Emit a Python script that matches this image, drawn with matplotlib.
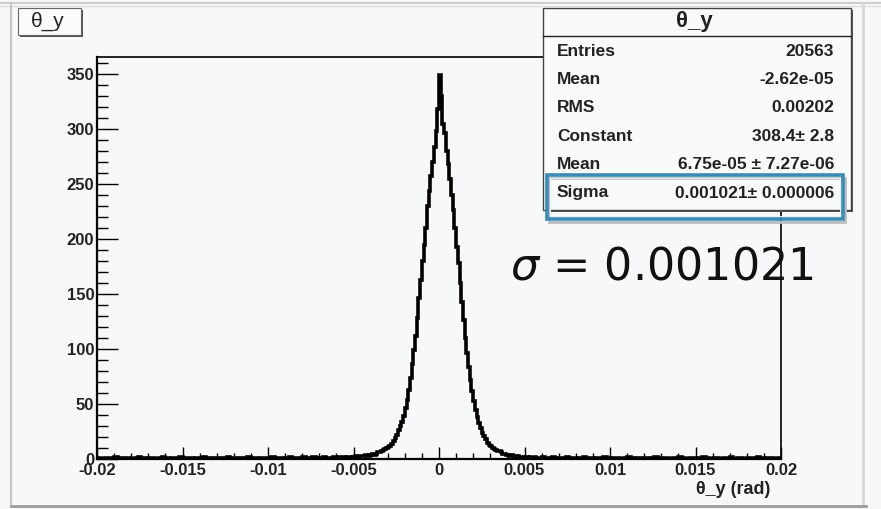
import numpy as np
import matplotlib.pyplot as plt
from matplotlib.patches import Rectangle
from matplotlib.lines import Line2D
from matplotlib.ticker import MultipleLocator, FixedLocator

W, H = 881, 509
BG = '#f7f8fa'
FONT = 'Liberation Sans'

x_lo, x_hi = -0.02, 0.02

# tails (-0.02 .. -0.006) and (0.006 .. 0.02), bins of 0.0002 rad
left_tail = [1, 0, 1, 1, 0, 2, 1, 0, 1, 1, 0, 1, 2, 1, 0, 1, 1, 0, 1, 2,
             1, 0, 1, 1, 2, 0, 1, 1, 0, 1, 1, 2, 1, 0, 1, 1, 1, 0, 2, 1,
             1, 1, 0, 1, 2, 1, 1, 0, 1, 1, 1, 2, 1, 1, 0, 1, 2, 1, 1, 1,
             2, 1, 1, 2, 1, 1, 2, 1, 1, 2]
right_tail = [2, 1, 1, 2, 1, 1, 1, 2, 1, 1, 0, 1, 2, 1, 1, 0, 1, 1, 2, 1,
              0, 1, 1, 0, 1, 2, 1, 0, 1, 1, 1, 0, 1, 2, 0, 1, 1, 0, 1, 1,
              2, 1, 0, 1, 1, 0, 1, 2, 1, 0, 1, 1, 0, 1, 1, 2, 0, 1, 1, 0,
              1, 1, 0, 2, 1, 0, 1, 1, 0, 1]
# core -0.006 .. 0.006, bins of 0.0001 rad
core_left = [1, 2, 1, 1, 2, 1, 2, 2, 1, 2, 2, 3, 2, 2, 3, 3, 3, 4, 3, 4,
             4, 5, 4, 5, 6, 6, 7, 8, 9, 10, 11, 12, 14, 16, 19, 22, 26, 30, 34, 39,
             46, 54, 63, 74, 86, 99, 112, 128, 146, 163,
             180, 195, 210, 230, 244, 257, 270, 284, 298, 318]
core_peak = [349]
core_right = [330, 305, 296, 280, 268, 255, 240, 226, 210, 193,
              178, 160, 143, 126, 110, 96, 84, 72, 62, 53,
              45, 38, 33, 28, 24, 21, 18, 15, 13, 12,
              10, 9, 8, 7, 7, 6, 5, 5, 4, 4, 3, 4, 3, 3, 2, 3, 2, 2, 2, 1,
              2, 1, 2, 1, 1, 2, 1, 1, 1]

counts = np.array(left_tail + core_left + core_peak + core_right + right_tail)
edges = np.concatenate([np.linspace(x_lo, -0.006, len(left_tail) + 1)[:-1],
                        np.linspace(-0.006, 0.006, len(core_left) + len(core_peak) + len(core_right) + 1),
                        np.linspace(0.006, x_hi, len(right_tail) + 1)[1:]])

stats_title = 'θ_y'
stats_rows = [('Entries', '20563'),
              ('Mean', '-2.62e-05'),
              ('RMS', '0.00202'),
              ('Constant', '308.4± 2.8'),
              ('Mean', '6.75e-05 ± 7.27e-06'),
              ('Sigma', '0.001021± 0.000006')]
sigma_fit = 0.001021

x_ticks = [-0.02, -0.015, -0.01, -0.005, 0, 0.005, 0.01, 0.015, 0.02]
x_ticklabels = ['-0.02', '-0.015', '-0.01', '-0.005', '0', '0.005', '0.01', '0.015', '0.02']


def fx(x):
    return x / W


def fy(y):
    return 1 - y / H


def box(ax0, ay0, ax1, ay1, **kw):
    return Rectangle((fx(ax0), fy(ay1)), (ax1 - ax0) / W, (ay1 - ay0) / H,
                     transform=fig.transFigure, **kw)


fig = plt.figure(figsize=(W / 100, H / 100), dpi=100)
fig.patch.set_facecolor(BG)

ax = fig.add_axes([fx(97), fy(459), (781 - 97) / W, (459 - 57) / H])
ax.set_facecolor(BG)
ax.stairs(counts, edges, color='black', linewidth=2.6)
ax.set_xlim(x_lo, x_hi)
ax.set_ylim(0, 365.5)

ax.xaxis.set_major_locator(FixedLocator(x_ticks))
ax.set_xticklabels(x_ticklabels)
ax.xaxis.set_minor_locator(MultipleLocator(0.001))
ax.yaxis.set_major_locator(MultipleLocator(50))
ax.yaxis.set_minor_locator(MultipleLocator(10))
ax.tick_params(axis='x', which='major', direction='in', length=8.6, width=1, pad=3)
ax.tick_params(axis='x', which='minor', direction='in', length=4.3, width=1)
ax.tick_params(axis='y', which='major', direction='in', length=15, width=1, pad=2)
ax.tick_params(axis='y', which='minor', direction='in', length=8, width=1)
for lab in ax.get_xticklabels() + ax.get_yticklabels():
    lab.set_fontfamily(FONT)
    lab.set_fontweight('bold')
    lab.set_fontsize(12)
    lab.set_color('#222222')
for sp in ax.spines.values():
    sp.set_linewidth(1.2)
ax.spines['left'].set_linewidth(1.6)
ax.spines['bottom'].set_linewidth(1.6)

fig.text(fx(770), fy(494), 'θ_y (rad)', ha='right', va='baseline',
         fontfamily=FONT, fontweight='bold', fontsize=13, color='#222222')

# canvas border
border = '#c4c6c8'
fig.add_artist(Line2D([fx(0), fx(W)], [fy(3), fy(3)], color=border, lw=1.2, transform=fig.transFigure))
fig.add_artist(Line2D([fx(0), fx(W)], [fy(6), fy(6)], color='#dcdddf', lw=1.0, transform=fig.transFigure))
fig.add_artist(Line2D([fx(11), fx(11)], [fy(3), fy(506)], color=border, lw=1.6, transform=fig.transFigure))
fig.add_artist(Line2D([fx(863), fx(863)], [fy(3), fy(506)], color='#d6d7d9', lw=2.0, transform=fig.transFigure))
fig.add_artist(Line2D([fx(11), fx(866)], [fy(506), fy(506)], color='#9a9c9e', lw=2.0, transform=fig.transFigure))

# histogram name box
fig.add_artist(box(20, 10, 83, 37, facecolor='#555555', edgecolor='none'))
fig.add_artist(box(18, 8, 81, 35, facecolor='#fbfbfd', edgecolor='#666666', lw=0.8))
fig.text(fx(48), fy(21), 'θ_y', ha='center', va='center',
         fontfamily=FONT, fontsize=15, color='#222222')

# statistics box
fig.add_artist(box(545, 10, 853, 212, facecolor='#555555', edgecolor='none'))
fig.add_artist(box(543, 8, 851, 210, facecolor='#f9fafc', edgecolor='#444444', lw=1.0))
fig.add_artist(Line2D([fx(543), fx(851)], [fy(36), fy(36)], color='#222222', lw=1.0,
                      transform=fig.transFigure))
fig.text(fx(694), fy(21), stats_title, ha='center', va='center',
         fontfamily=FONT, fontweight='bold', fontsize=16, color='#222222')
for i, (name, val) in enumerate(stats_rows):
    y = 51 + i * 28.4
    fig.text(fx(557), fy(y), name, ha='left', va='center',
             fontfamily=FONT, fontweight='bold', fontsize=12.5, color='#222222')
    fig.text(fx(834), fy(y), val, ha='right', va='center',
             fontfamily=FONT, fontweight='bold', fontsize=12.5, color='#222222')

# highlight round the Sigma row
fig.add_artist(box(549, 178, 845, 222, facecolor='none', edgecolor='#b9bec3', lw=2.0))
fig.add_artist(box(547, 175, 843, 219, facecolor='none', edgecolor='#3a8cb2', lw=2.6))
fig.add_artist(box(550, 178, 840, 216, facecolor='none', edgecolor='#e6f0f5', lw=0.8))

fig.text(fx(510), fy(280), r'$\sigma$ = {:.6f}'.format(sigma_fit), ha='left', va='baseline',
         fontsize=32, color='#111111')

fig.savefig('out.png', dpi=100, facecolor=BG)
